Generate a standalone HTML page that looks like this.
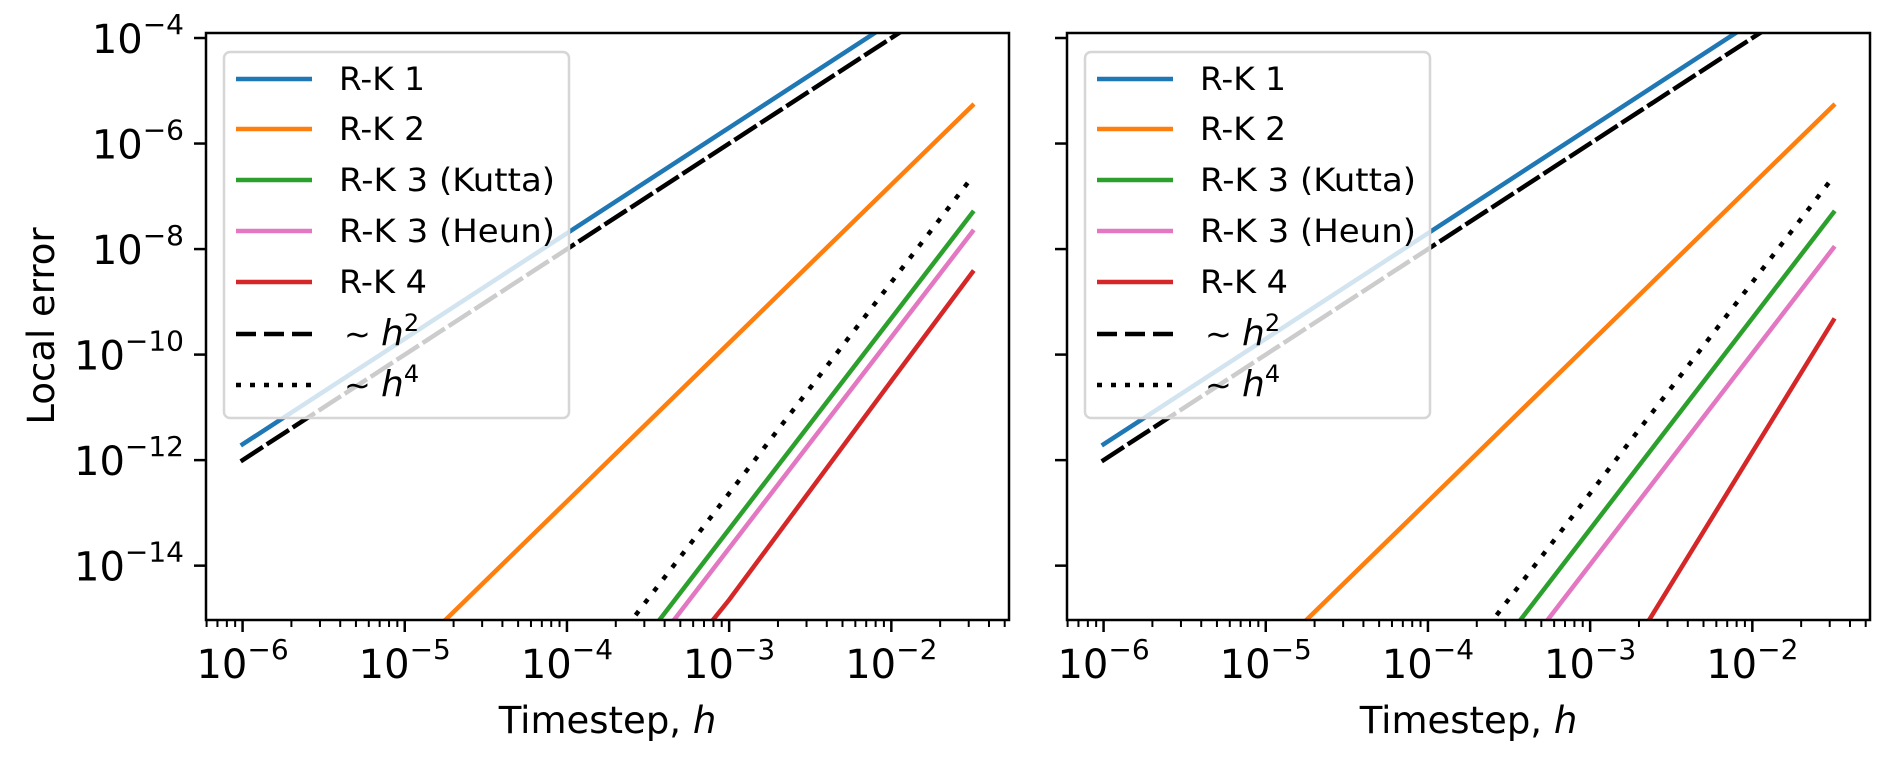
<!DOCTYPE html>
<html><head><meta charset="utf-8"><style>
html,body{margin:0;padding:0;background:#fff;width:1892px;height:762px;overflow:hidden;}
svg{display:block;font-family:"DejaVu Sans","Liberation Sans",sans-serif;}
</style></head><body>
<svg id="chart" width="1892" height="762" viewBox="0 0 1892 762"></svg>
<script>
// data (log10 values)
const hLog = [-6, -5, -4, -3, -2, -1.5];
const rk1 = [-11.7, -9.7, -7.7, -5.7, -3.7, -2.7];
const ref2 = [-12, -10, -8, -6, -4, -3];
const rk2 = [-18.8, -15.78, -12.78, -9.78, -6.78, -5.28];
const ref4 = [-24.63, -20.63, -16.63, -12.63, -8.63, -6.63];
const kuttaL = [-25.31, -21.31, -17.31, -13.31, -9.31, -7.31];
const heunL = [-25.67, -21.67, -17.67, -13.67, -9.67, -7.67];
const rk4LogH = [-4, -3.1, -3, -2, -1.5];
const rk4L = [-18.6, -15.03, -14.65, -10.5, -8.44];
const kuttaR = [-25.31, -21.31, -17.31, -13.31, -9.31, -7.31];
const heunR = [-25.98, -21.98, -17.98, -13.98, -9.98, -7.98];
const rk4R = [-31.85, -26.85, -21.85, -16.85, -11.85, -9.35];
const xTickExps = [-6, -5, -4, -3, -2];
const yTickExps = [-4, -6, -8, -10, -12, -14];
const legendLabels = ["R-K 1", "R-K 2", "R-K 3 (Kutta)", "R-K 3 (Heun)", "R-K 4"];
const legendColors = ["#1f77b4", "#ff7f0e", "#2ca02c", "#e377c2", "#d62728"];
const legendWidths = [86, 86, 216, 216, 88];

const NS = "http://www.w3.org/2000/svg";
const svg = document.getElementById("chart");
function mk(tag, attrs, parent) {
  const e = document.createElementNS(NS, tag);
  for (const k in attrs) e.setAttribute(k, attrs[k]);
  (parent || svg).appendChild(e);
  return e;
}
const TOP = 33, BOT = 620, PW = 803;
const xmin = -6.2255, xmax = -1.2745, ymax = -3.905, ymin = -15.03;
function makeX(left) { return v => left + (v - xmin) / (xmax - xmin) * PW; }
function yS(v) { return TOP + (ymax - v) / (ymax - ymin) * (BOT - TOP); }

function panel(left, idx, series, showY) {
  const xS = makeX(left);
  const g = mk("g", {});
  
  
  const cid = "clip" + idx;
  const cp = mk("clipPath", {id: cid}, g);
  mk("rect", {x: left, y: TOP, width: PW, height: BOT - TOP}, cp);
  const lg = mk("g", {"clip-path": "url(#" + cid + ")"}, g);
  series.forEach(s => {
    const xs = s.x || hLog;
    const d = xs.map((v, i) => (i ? "L" : "M") + xS(v).toFixed(1) + "," + yS(s.y[i]).toFixed(1)).join(" ");
    const p = mk("path", {d: d, fill: "none", stroke: s.c, "stroke-width": 4.5, "stroke-linecap": s.dash === "dot" ? "butt" : "square"}, lg);
    if (s.dash === "dash") p.setAttribute("stroke-dasharray", "22,9");
    if (s.dash === "dot") p.setAttribute("stroke-dasharray", "5,10");
    
    
  });
  for (let e = -7; e <= -2; e++) {
    for (let m = 1; m <= 9; m++) {
      const v = e + Math.log10(m);
      if (v < xmin || v > xmax) continue;
      const x = xS(v);
      mk("line", {x1: x, x2: x, y1: BOT, y2: BOT + (m === 1 ? 12 : 7), stroke: "#000", "stroke-width": m === 1 ? 2.5 : 2}, g);
    }
  }
  xTickExps.forEach(e => {
    const t = mk("text", {x: xS(e), y: 678, "font-size": 40, "text-anchor": "middle"}, g);
    t.innerHTML = '10<tspan dy="-19" font-size="28">\u2212' + (-e) + '</tspan>';
    
    
  });
  yTickExps.forEach(e => {
    const y = yS(e);
    mk("line", {x1: left - 12, x2: left, y1: y, y2: y, stroke: "#000", "stroke-width": 2.5}, g);
    if (showY) {
      const t = mk("text", {x: left - 22, y: y + 15, "font-size": 40, "text-anchor": "end"}, g);
      t.innerHTML = '10<tspan dy="-19" font-size="28">\u2212' + (-e) + '</tspan>';
      
      
    }
  });
  mk("rect", {x: left, y: TOP, width: PW, height: BOT - TOP, fill: "none", stroke: "#000", "stroke-width": 2.5}, g);
  const lx = left + 18;
  const leg = mk("g", {}, g);
  
  
  mk("rect", {x: lx, y: 52, width: 345, height: 366, rx: 6, fill: "#fff", "fill-opacity": 0.8, stroke: "#d6d6d6", "stroke-width": 2.5}, leg);
  const ys = [79, 129, 180, 231, 282, 334, 385];
  for (let i = 0; i < 7; i++) {
    const y = ys[i];
    const ln = mk("line", {x1: lx + 12, x2: lx + 88, y1: y, y2: y, stroke: i < 5 ? legendColors[i] : "#000", "stroke-width": 4.5}, leg);
    if (i === 5) ln.setAttribute("stroke-dasharray", "20,8");
    if (i === 6) ln.setAttribute("stroke-dasharray", "5,9");
    const t = mk("text", {x: lx + 115, y: y + 11, "font-size": 32}, leg);
    if (i < 5) {
      t.textContent = legendLabels[i];
      t.setAttribute("textLength", legendWidths[i]);
      t.setAttribute("lengthAdjust", "spacingAndGlyphs");
    } else {
      t.setAttribute("x", lx + 120);
      t.innerHTML = '\u223C <tspan font-style="italic" font-size="36">h</tspan><tspan dy="-14" font-size="24">' + (i === 5 ? 2 : 4) + '</tspan>';
    }
    
    
  }
  const xl = mk("text", {x: left + PW / 2, y: 733, "font-size": 37, "text-anchor": "middle"}, g);
  xl.innerHTML = 'Timestep, <tspan font-style="italic">h</tspan>';
  
  
}
panel(206, 1, [
  {name: "line-rk1", y: rk1, c: "#1f77b4"},
  {name: "line-h2", y: ref2, c: "#000", dash: "dash"},
  {name: "line-rk2", y: rk2, c: "#ff7f0e"},
  {name: "line-h4", y: ref4, c: "#000", dash: "dot"},
  {name: "line-rk3-kutta", y: kuttaL, c: "#2ca02c"},
  {name: "line-rk3-heun", y: heunL, c: "#e377c2"},
  {name: "line-rk4", x: rk4LogH, y: rk4L, c: "#d62728"}
], true);
panel(1067, 2, [
  {name: "line-rk1", y: rk1, c: "#1f77b4"},
  {name: "line-h2", y: ref2, c: "#000", dash: "dash"},
  {name: "line-rk2", y: rk2, c: "#ff7f0e"},
  {name: "line-h4", y: ref4, c: "#000", dash: "dot"},
  {name: "line-rk3-kutta", y: kuttaR, c: "#2ca02c"},
  {name: "line-rk3-heun", y: heunR, c: "#e377c2"},
  {name: "line-rk4", y: rk4R, c: "#d62728"}
], false);
const yl = mk("text", {x: 0, y: 0, "font-size": 37, "text-anchor": "middle", transform: "translate(54,326) rotate(-90)"});
yl.textContent = "Local error";


</script>
</body></html>
